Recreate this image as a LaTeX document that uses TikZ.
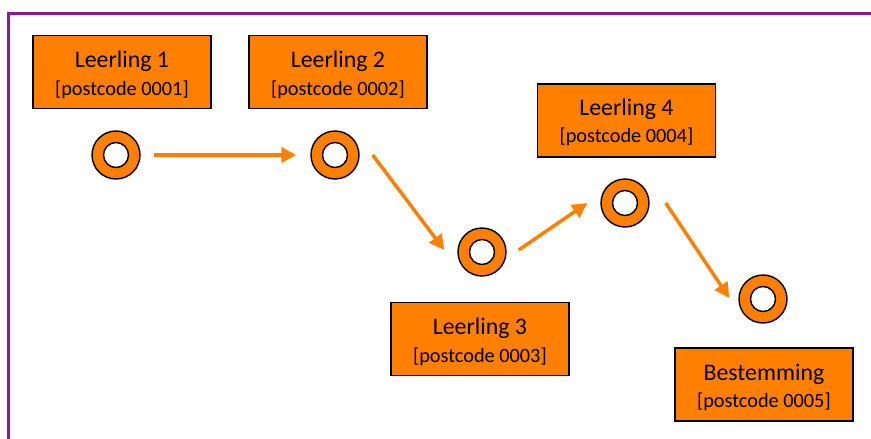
\documentclass[tikz,border=0pt]{standalone}
\usepackage{fontspec}
\setmainfont{Carlito}
\usetikzlibrary{arrows.meta}
\definecolor{frameP}{HTML}{8C1A8C}
\definecolor{orng}{HTML}{FF8000}
\tikzset{
  box/.style={draw=black, line width=1.8pt, fill=orng, minimum width=178pt, minimum height=73pt, inner sep=0pt, anchor=north west},
  ttl/.style={anchor=base, font=\fontsize{23.8}{27}\selectfont, inner sep=0pt},
  pc/.style={anchor=base, font=\fontsize{20.3}{23}\selectfont, inner sep=0pt},
  ring/.style={circle, draw=black, line width=1.4pt, fill=orng, minimum size=48pt, inner sep=0pt,
    path picture={\draw[black, line width=1.4pt, fill=white] (path picture bounding box.center) circle (12.5pt);}},
  arr/.style={draw=orng, line width=3.5pt, -{Triangle[length=15pt,width=15pt]}}
}
\begin{document}
\begin{tikzpicture}[x=1pt,y=-1pt]
\useasboundingbox (0,0) rectangle (871,439);
\fill[white] (0,0) rectangle (871,439);
\coordinate (fa) at (8.5,445);
\coordinate (fb) at (8.5,13.5);
\coordinate (fc) at (880,13.5);
\draw[frameP, line width=3pt] (fa) -- (fb) -- (fc);

% boxes
\node[box] (b1) at (32,34.5) {};
\node[ttl] (t1) at ([shift={(0,32.5)}]b1.north) {Leerling 1};
\node[pc] (p1) at ([shift={(0,60.5)}]b1.north) {[postcode 0001]};

\node[box] (b2) at (248,34.5) {};
\node[ttl] (t2) at ([shift={(0,32.5)}]b2.north) {Leerling 2};
\node[pc] (p2) at ([shift={(0,60.5)}]b2.north) {[postcode 0002]};

\node[box] (b3) at (390,301.5) {};
\node[ttl] (t3) at ([shift={(0,32.5)}]b3.north) {Leerling 3};
\node[pc] (p3) at ([shift={(0,60.5)}]b3.north) {[postcode 0003]};

\node[box] (b4) at (536.5,83) {};
\node[ttl] (t4) at ([shift={(0,32.5)}]b4.north) {Leerling 4};
\node[pc] (p4) at ([shift={(0,59.5)}]b4.north) {[postcode 0004]};

\node[box] (b5) at (674,347) {};
\node[ttl] (t5) at ([shift={(0,33)}]b5.north) {Bestemming};
\node[pc] (p5) at ([shift={(0,60)}]b5.north) {[postcode 0005]};

% rings
\node[ring] (c1) at (116,155) {};
\node[ring] (c2) at (335,155) {};
\node[ring] (c3) at (482,252) {};
\node[ring] (c4) at (625,203) {};
\node[ring] (c5) at (763,299) {};

% arrows
\draw[arr] ([shift={(13,0)}]c1.east) -- ([shift={(-14,0)}]c2.west);
\draw[arr] ([shift={(13,0)}]c2.east) -- ([shift={(-13,-2)}]c3.west);
\draw[arr] ([shift={(12,-2)}]c3.east) -- ([shift={(-13,0)}]c4.west);
\draw[arr] ([shift={(16,0)}]c4.east) -- ([shift={(-9,-1)}]c5.west);
\end{tikzpicture}
\end{document}
